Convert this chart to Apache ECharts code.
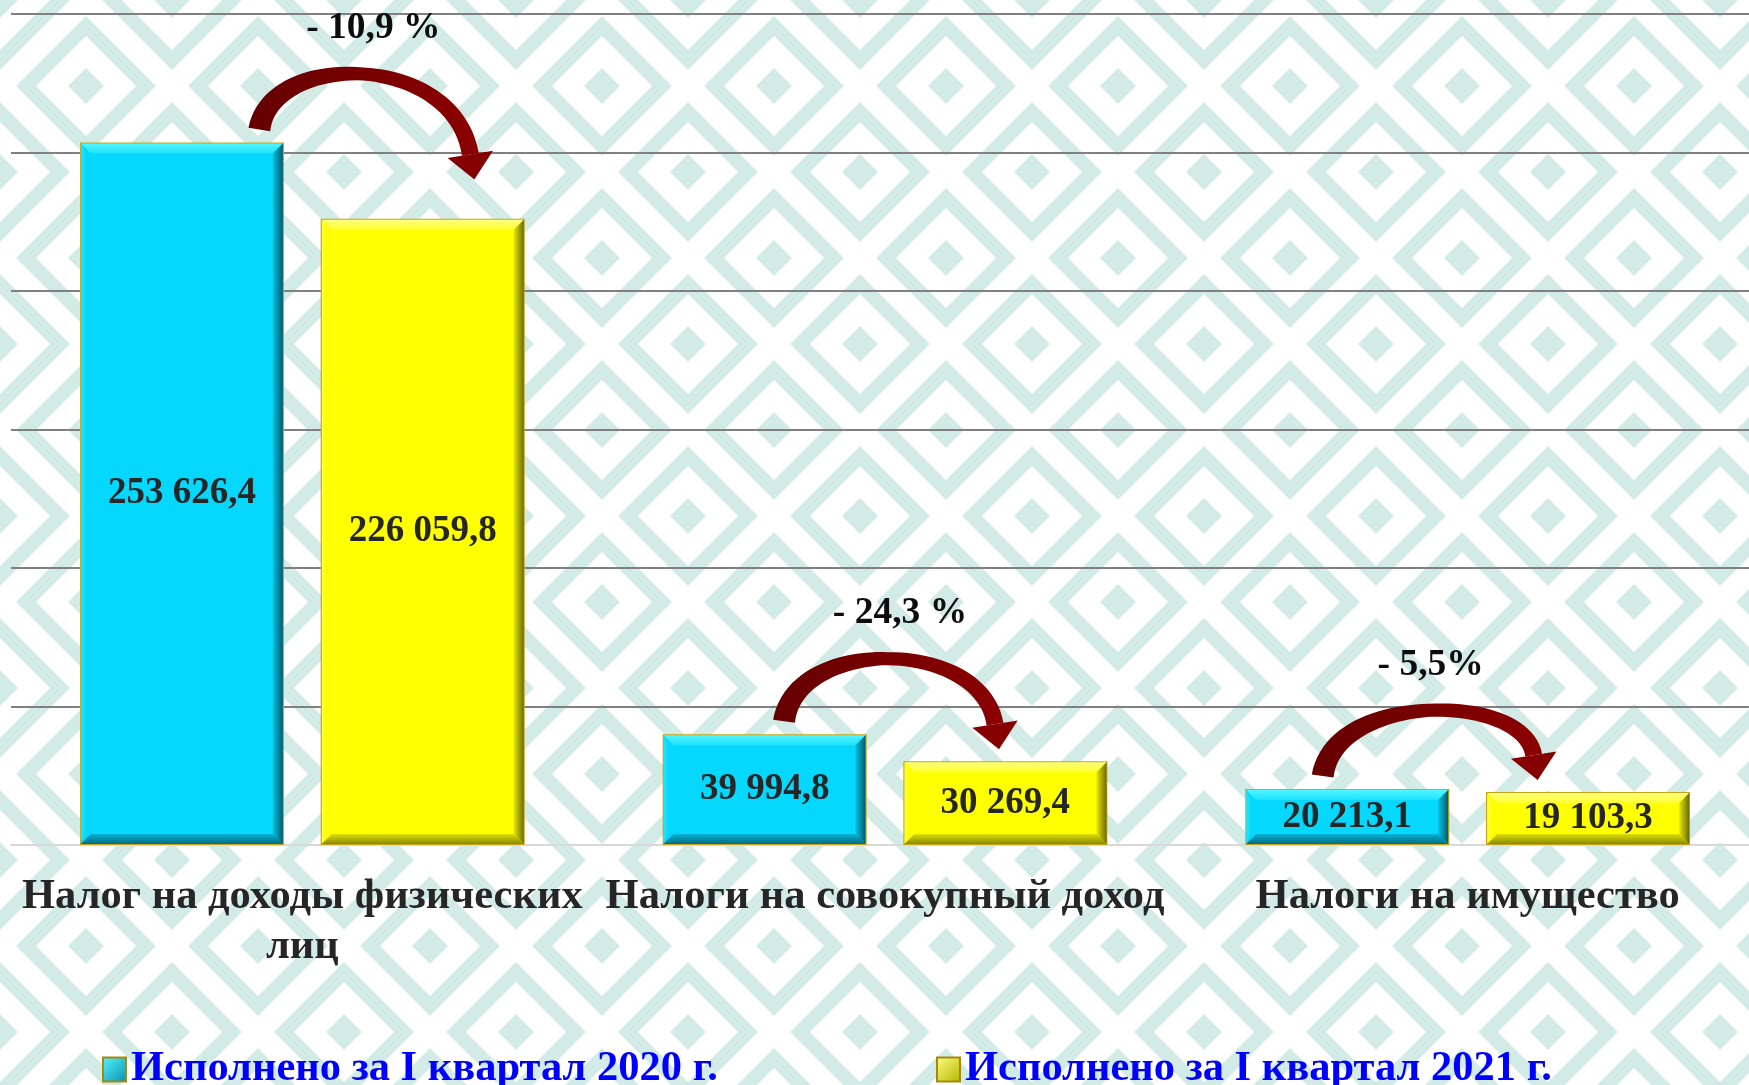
<!DOCTYPE html>
<html>
<head>
<meta charset="utf-8">
<script src="https://cdn.jsdelivr.net/npm/echarts@6/dist/echarts.min.js"></script>
<style>
html, body { margin: 0; padding: 0; width: 1749px; height: 1085px; overflow: hidden; background-color: #ffffff; }
#chart { width: 1760px; height: 1085px; }
</style>
</head>
<body>
<div id="chart"></div>
<script>
// ---------------- DATA ----------------
const categories = ['Налог на доходы физических\nлиц', 'Налоги на совокупный доход', 'Налоги на имущество'];
const seriesNames = ['Исполнено за I квартал 2020 г.', 'Исполнено за I квартал 2021 г.'];
const values2020 = [253626.4, 39994.8, 20213.1];
const values2021 = [226059.8, 30269.4, 19103.3];
const changeLabels = ['- 10,9 %', '- 24,3 %', '- 5,5%'];
const yAxisMin = 0;
const yAxisMax = 300000;
const yAxisStep = 50000;

// ---------------- LAYOUT / STYLE ----------------
const L = { left: 11, top: 14, bottom: 240, right: 1, barWidth: 204, barGapPx: 37, bevel: 10 };
const arrowShift = [-43, -101, -145];   // arrow tail offset from category centre (px)
const arrowRise = [56, 63, 66];         // arc height above the tail (px)
const arrowTextDx = [114, 116, 108];    // change-label offset from tail (px)
const arrowSpan = 215;
const FONT = '"Liberation Serif", "Times New Roman", serif';

// background ornament
(function () {
  const c = '#d3ebe6';
  const svg = "<svg xmlns='http://www.w3.org/2000/svg' width='172' height='172'>" +
    "<g fill='none' stroke='" + c + "' stroke-width='14'>" +
    "<path d='M86,26 L146,86 L86,146 L26,86 Z'/>" +
    "<path d='M-60,0 L0,-60 L60,0 L0,60 Z'/><path d='M112,0 L172,-60 L232,0 L172,60 Z'/>" +
    "<path d='M-60,172 L0,112 L60,172 L0,232 Z'/><path d='M112,172 L172,112 L232,172 L172,232 Z'/>" +
    "</g><g fill='" + c + "'>" +
    "<path d='M86,68 L104,86 L86,104 L68,86 Z'/>" +
    "<path d='M0,-18 L18,0 L0,18 L-18,0 Z'/><path d='M172,-18 L190,0 L172,18 L154,0 Z'/>" +
    "<path d='M0,154 L18,172 L0,190 L-18,172 Z'/><path d='M172,154 L190,172 L172,190 L154,172 Z'/>" +
    "</g></svg>";
  document.body.style.backgroundImage = 'url("data:image/svg+xml;utf8,' + encodeURIComponent(svg) + '")';
})();

function fmt(v) {
  const parts = v.toFixed(1).split('.');
  return parts[0].replace(/\B(?=(\d{3})+(?!\d))/g, ' ') + ',' + parts[1];
}

const palettes = [
  { top: ['#4ff6ff', '#1fe2fd'], right: ['#07c2e2', '#035a6c'], bottom: ['#06b4d4', '#046a82'], left: ['#22e4fe', '#10dcfc'] },
  { top: ['#ffff80', '#ffff30'], right: ['#e6e600', '#6b6b00'], bottom: ['#dede00', '#8a8a00'], left: ['#ffff40', '#ffff10'] }
];

function grad(x2, y2, stops) {
  return { type: 'linear', x: 0, y: 0, x2: x2, y2: y2, colorStops: [{ offset: 0, color: stops[0] }, { offset: 1, color: stops[1] }] };
}

function bevelShapes(x0, x1, yT, yB, pal) {
  const b = Math.min(L.bevel, (yB - yT) / 3);
  x0 += 1; x1 -= 1; yT += 1; yB -= 1;
  return [
    { type: 'polygon', shape: { points: [[x0, yT], [x1, yT], [x1 - b, yT + b], [x0 + b, yT + b]] }, style: { fill: grad(0, 1, pal.top) } },
    { type: 'polygon', shape: { points: [[x0, yT], [x0 + b * 0.4, yT + b], [x0 + b * 0.4, yB - b], [x0, yB]] }, style: { fill: grad(1, 0, pal.left) } },
    { type: 'polygon', shape: { points: [[x0, yB], [x1, yB], [x1 - b, yB - b], [x0 + b, yB - b]] }, style: { fill: grad(0, 1, pal.bottom) } },
    { type: 'polygon', shape: { points: [[x1, yT], [x1, yB], [x1 - b, yB - b], [x1 - b, yT + b]] }, style: { fill: grad(1, 0, pal.right) } }
  ];
}

function bez(p0, p1, p2, p3, t) {
  const u = 1 - t;
  return [
    u * u * u * p0[0] + 3 * u * u * t * p1[0] + 3 * u * t * t * p2[0] + t * t * t * p3[0],
    u * u * u * p0[1] + 3 * u * u * t * p1[1] + 3 * u * t * t * p2[1] + t * t * t * p3[1]
  ];
}

function arrowShapes(T, tip, rise, textDx, label) {
  const B = [tip[0] - 4, tip[1] - 25];
  let dx = tip[0] - B[0], dy = tip[1] - B[1];
  const dl = Math.hypot(dx, dy); dx /= dl; dy /= dl;
  const peakC = Math.min(T[1], tip[1]) - rise;
  const Y = (8 * peakC - T[1] - B[1]) / 6;
  const h = B[1] - Y;
  const P1 = [T[0] + 12, Y];
  const P2 = [B[0] - dx * h, B[1] - dy * h];
  const N = 48, left = [], right = [];
  for (let k = 0; k <= N; k++) {
    const t = k / N;
    const p = bez(T, P1, P2, B, t);
    const q = bez(T, P1, P2, B, Math.min(1, t + 0.001));
    const r = bez(T, P1, P2, B, Math.max(0, t - 0.001));
    let tx = q[0] - r[0], ty = q[1] - r[1];
    const tl = Math.hypot(tx, ty); tx /= tl; ty /= tl;
    const w = t < 0.5 ? 22 - 18 * t : 13 + 8 * (t - 0.5);
    left.push([p[0] - ty * w / 2, p[1] + tx * w / 2]);
    right.push([p[0] + ty * w / 2, p[1] - tx * w / 2]);
  }
  const body = left.concat(right.reverse());
  const nx = -dy, ny = dx;
  const head = [[B[0] + nx * 23, B[1] + ny * 23], [tip[0], tip[1]], [B[0] - nx * 23, B[1] - ny * 23]];
  const fill = grad(1, 0, ['#650000', '#8c0000']);
  return [
    { type: 'polygon', shape: { points: body }, style: { fill: fill } },
    { type: 'polygon', shape: { points: head }, style: { fill: '#850000' } },
    { type: 'text', style: { text: label, x: T[0] + textDx, y: peakC - 45, align: 'center', verticalAlign: 'middle',
        font: 'bold 37.5px ' + FONT, fill: '#0d0d0d' } }
  ];
}

function renderOverlay(params, api) {
  const i = api.value(0);
  const base = api.coord([i, 0]);
  const cx = base[0], yB = base[1];
  const t1 = api.coord([i, api.value(1)])[1];
  const t2 = api.coord([i, api.value(2)])[1];
  const half = (L.barWidth + L.barGapPx) / 2;
  const w2 = L.barWidth / 2;
  let children = [];
  children = children.concat(bevelShapes(cx - half - w2, cx - half + w2, t1, yB, palettes[0]));
  children = children.concat(bevelShapes(cx + half - w2, cx + half + w2, t2, yB, palettes[1]));
  const T = [cx + arrowShift[i], t1 - 13];
  const tip = [T[0] + arrowSpan, Math.min(t2 - 12, T[1] + 50)];
  children = children.concat(arrowShapes(T, tip, arrowRise[i], arrowTextDx[i], changeLabels[i]));
  return { type: 'group', children: children };
}

const overlayData = categories.map((c, i) => [i, values2020[i], values2021[i]]);

const labelStyle = {
  show: true, position: 'inside', formatter: p => fmt(p.value),
  color: '#262626', fontSize: 37, fontWeight: 'bold', fontFamily: FONT
};

const legendBase = {
  orient: 'horizontal', top: 1048, padding: 0, itemWidth: 23, itemHeight: 24, icon: 'rect',
  textStyle: { color: '#0000ff', fontSize: 42.5, fontWeight: 'bold', fontFamily: FONT, lineHeight: 42 }
};

const chart = echarts.init(document.getElementById('chart'), null, { renderer: 'canvas' });
chart.setOption({
  animation: false,
  backgroundColor: 'transparent',
  grid: { left: L.left, top: L.top, bottom: L.bottom, right: L.right, containLabel: false },
  legend: [
    Object.assign({}, legendBase, { left: 102, data: [seriesNames[0]],
      itemStyle: { color: { type: 'linear', x: 0, y: 0, x2: 1, y2: 1, colorStops: [{ offset: 0, color: '#5af4ff' }, { offset: 1, color: '#0590b0' }] },
        borderColor: '#a8880c', borderWidth: 2 } }),
    Object.assign({}, legendBase, { left: 936, data: [seriesNames[1]],
      itemStyle: { color: { type: 'linear', x: 0, y: 0, x2: 1, y2: 1, colorStops: [{ offset: 0, color: '#ffff80' }, { offset: 1, color: '#b4b400' }] },
        borderColor: '#a8880c', borderWidth: 2 } })
  ],
  xAxis: {
    type: 'category', data: categories,
    axisLine: { show: true, lineStyle: { color: '#d9d9d9', width: 2 } },
    axisTick: { show: false },
    axisLabel: { interval: 0, margin: 27, color: '#262626', fontSize: 42.5, fontWeight: 'bold', fontFamily: FONT, lineHeight: 50 }
  },
  yAxis: {
    type: 'value', min: yAxisMin, max: yAxisMax, interval: yAxisStep,
    axisLine: { show: false }, axisTick: { show: false }, axisLabel: { show: false },
    splitLine: { show: true, lineStyle: { color: '#808080', width: 2 } }
  },
  series: [
    { name: seriesNames[0], type: 'bar', data: values2020, barWidth: L.barWidth, barGap: '18%',
      itemStyle: { color: '#05d8fc', borderColor: '#c9a416', borderWidth: 1.5 }, label: labelStyle },
    { name: seriesNames[1], type: 'bar', data: values2021, barWidth: L.barWidth, barGap: '18%',
      itemStyle: { color: '#ffff00', borderColor: '#c9a416', borderWidth: 1.5 }, label: labelStyle },
    { type: 'custom', data: overlayData, renderItem: renderOverlay, encode: { x: 0, y: [1, 2] },
      silent: true, z: 3, clip: false, tooltip: { show: false } }
  ]
});
</script>
</body>
</html>
